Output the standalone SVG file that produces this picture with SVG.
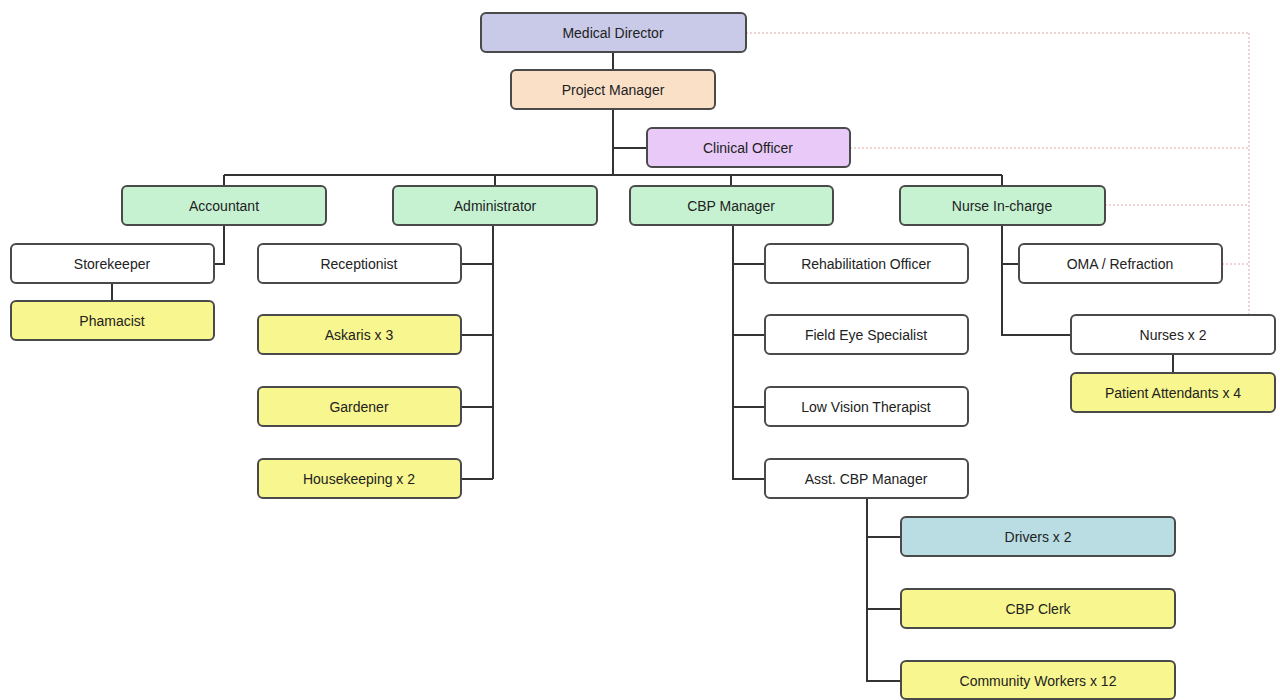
<svg xmlns="http://www.w3.org/2000/svg" width="1280" height="700" viewBox="0 0 1280 700">
<style>
.b{stroke:#4a4a4a;stroke-width:2}
.t{font-family:"Liberation Sans",Arial,sans-serif;font-size:14px;fill:#222;text-anchor:middle;dominant-baseline:central}
.c{fill:none;stroke:#333;stroke-width:2}
.d{fill:none;stroke:#e3a6a6;stroke-width:1;stroke-dasharray:2,2}
.w{fill:#fff}.g{fill:#c6f2d2}.y{fill:#f8f68e}
</style>
<rect width="1280" height="700" fill="#fff"/>
<g id="connectors">
<path class="d" d="M746 33H1249M850 148H1249M1105 205H1249M1222 264H1249M1249 33V316"/>
<path class="c" d="M613 52V70M613 109V175M613 148H647M224 175H1002M224 175V186M495 175V186M731 175V186M1002 175V186"/>
<path class="c" d="M224 225V264H214M112 283V301"/>
<path class="c" d="M493 225V479M461 264H493M461 335H493M461 407H493M461 479H493"/>
<path class="c" d="M733 225V479H765M733 264H765M733 335H765M733 407H765"/>
<path class="c" d="M867 498V681H901M867 537H901M867 609H901"/>
<path class="c" d="M1002 225V335H1071M1002 264H1019M1173 354V373"/>
</g>
<g id="medical-director"><rect class="b" x="481" y="13" width="265" height="39" rx="5" fill="#c9c9e8"/><text class="t" x="613" y="33">Medical Director</text></g>
<g id="project-manager"><rect class="b" x="511" y="70" width="204" height="39" rx="5" fill="#fbe0c8"/><text class="t" x="613" y="90">Project Manager</text></g>
<g id="clinical-officer"><rect class="b" x="647" y="128" width="203" height="39" rx="5" fill="#e8c9f7"/><text class="t" x="748" y="148">Clinical Officer</text></g>
<g id="accountant"><rect class="b g" x="122" y="186" width="204" height="39" rx="5"/><text class="t" x="224" y="206">Accountant</text></g>
<g id="administrator"><rect class="b g" x="393" y="186" width="204" height="39" rx="5"/><text class="t" x="495" y="206">Administrator</text></g>
<g id="cbp-manager"><rect class="b g" x="630" y="186" width="203" height="39" rx="5"/><text class="t" x="731" y="206">CBP Manager</text></g>
<g id="nurse-in-charge"><rect class="b g" x="900" y="186" width="205" height="39" rx="5"/><text class="t" x="1002" y="206">Nurse In-charge</text></g>
<g id="storekeeper"><rect class="b w" x="11" y="244" width="203" height="39" rx="5"/><text class="t" x="112" y="264">Storekeeper</text></g>
<g id="pharmacist"><rect class="b y" x="11" y="301" width="203" height="39" rx="5"/><text class="t" x="112" y="321">Phamacist</text></g>
<g id="receptionist"><rect class="b w" x="258" y="244" width="203" height="39" rx="5"/><text class="t" x="359" y="264">Receptionist</text></g>
<g id="askaris"><rect class="b y" x="258" y="315" width="203" height="39" rx="5"/><text class="t" x="359" y="335">Askaris x 3</text></g>
<g id="gardener"><rect class="b y" x="258" y="387" width="203" height="39" rx="5"/><text class="t" x="359" y="407">Gardener</text></g>
<g id="housekeeping"><rect class="b y" x="258" y="459" width="203" height="39" rx="5"/><text class="t" x="359" y="479">Housekeeping x 2</text></g>
<g id="rehabilitation-officer"><rect class="b w" x="765" y="244" width="203" height="39" rx="5"/><text class="t" x="866" y="264">Rehabilitation Officer</text></g>
<g id="field-eye-specialist"><rect class="b w" x="765" y="315" width="203" height="39" rx="5"/><text class="t" x="866" y="335">Field Eye Specialist</text></g>
<g id="low-vision-therapist"><rect class="b w" x="765" y="387" width="203" height="39" rx="5"/><text class="t" x="866" y="407">Low Vision Therapist</text></g>
<g id="asst-cbp-manager"><rect class="b w" x="765" y="459" width="203" height="39" rx="5"/><text class="t" x="866" y="479">Asst. CBP Manager</text></g>
<g id="drivers"><rect class="b" x="901" y="517" width="274" height="39" rx="5" fill="#b9dde2"/><text class="t" x="1038" y="537">Drivers x 2</text></g>
<g id="cbp-clerk"><rect class="b y" x="901" y="589" width="274" height="39" rx="5"/><text class="t" x="1038" y="609">CBP Clerk</text></g>
<g id="community-workers"><rect class="b y" x="901" y="661" width="274" height="38" rx="5"/><text class="t" x="1038" y="681">Community Workers x 12</text></g>
<g id="oma-refraction"><rect class="b w" x="1019" y="244" width="203" height="39" rx="5"/><text class="t" x="1120" y="264">OMA / Refraction</text></g>
<g id="nurses"><rect class="b w" x="1071" y="315" width="204" height="39" rx="5"/><text class="t" x="1173" y="335">Nurses x 2</text></g>
<g id="patient-attendants"><rect class="b y" x="1071" y="373" width="204" height="39" rx="5"/><text class="t" x="1173" y="393">Patient Attendants x 4</text></g>
</svg>
